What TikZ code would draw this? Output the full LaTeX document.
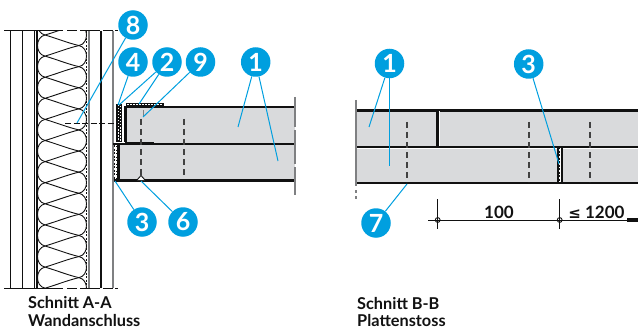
\documentclass[tikz,border=0pt]{standalone}
\usepackage{fontspec}
\setmainfont{Lato}
\usetikzlibrary{calc}
\definecolor{bluec}{HTML}{009FDF}
\definecolor{panel}{HTML}{D9DADC}
\definecolor{wallg}{HTML}{7F8082}
\definecolor{ink}{HTML}{111111}
\tikzset{
  x=1pt,y=-1pt,
  badge/.style={circle,fill=bluec,minimum size=29.5pt,inner sep=0pt,text=white,font=\fontsize{25}{25}\selectfont\bfseries},
  leader/.style={bluec,line width=1pt},
  heavy/.style={ink,line width=2.6pt},
  wallline/.style={ink,line width=1.1pt},
  graywall/.style={wallg,line width=2pt},
  dashcl/.style={ink!80,line width=1.1pt,dash pattern=on 6pt off 4pt},
  axisl/.style={ink,line width=1pt,dash pattern=on 59pt off 4pt on 10pt off 3pt on 20pt off 3pt on 10pt off 2pt on 3pt off 100pt},
  axisg/.style={wallg,line width=1.5pt},
  captext/.style={font=\fontsize{16.3}{18}\selectfont\bfseries,text=ink,anchor=west,inner sep=0pt},
  dimtext/.style={font=\fontsize{17}{18}\selectfont\bfseries,text=ink,inner sep=0pt},
  hatchdots/.style={white,line width=0.9pt,dash pattern=on 1.5pt off 1.5pt}
}
\begin{document}
\begin{tikzpicture}
\useasboundingbox (0,0) rectangle (638,329);
% ---- wall
\foreach \xx in {10.5,22.5,34.7,37,101}{\draw[wallline] (\xx,31) -- (\xx,288);}
\foreach \xx in {88.5,113}{\draw[graywall] (\xx,31) -- (\xx,288);}
\draw[ink,line width=0.7pt,dash pattern=on 2pt off 1.5pt] (86.3,31) -- (86.3,288);
\begin{scope}
\clip (37,31) rectangle (87,288);
\def\pp{21.1}
\foreach \k in {-2,...,12}{
  \pgfmathsetmacro{\a}{35+\k*\pp}
  \pgfmathsetmacro{\b}{\a+\pp}
  \pgfmathsetmacro{\c}{\a+0.5*\pp}
  \pgfmathsetmacro{\d}{\a+1.5*\pp}
  \draw[ink,line width=0.9pt]
    (45,\a) .. controls (35,\a+2) and (35,\b-2) .. (45,\b)
    .. controls (57,\b-3.5) and (68,\c+2.5) .. (79,\c)
    .. controls (89,\c+2) and (89,\d-2) .. (79,\d)
    .. controls (68,\d-2.5) and (57,\b+3.5) .. (45,\b);
}
\end{scope}
\draw[axisl] (4,31) -- (118,31);
\draw[axisl] (4,288) -- (118,288);
% ---- section A-A
\fill[panel] (127,107) rectangle (295,143);
\fill[panel] (118,144) rectangle (295,180);
\draw[heavy] (126,107) -- (295,107);
\draw[heavy] (113,144) -- (295,144);
\draw[heavy] (114,180.5) -- (295,180.5);
\draw[heavy] (125.5,106) -- (125.5,142);
\draw[ink,line width=1.2pt] (125,142.5) -- (154,142.5);
\draw[heavy] (118.5,144) -- (118.5,181);
\fill[ink] (116,104) rectangle (122,142);
\draw[hatchdots] (118,105) -- (118,141);
\draw[hatchdots] (120,106) -- (120,141);
\fill[ink] (126,103) rectangle (164,106.5);
\draw[hatchdots] (127,104.7) -- (163,104.7);
\draw[ink,line width=0.8pt,dash pattern=on 2pt off 1.5pt] (114.5,145) -- (114.5,180);
\draw[ink,line width=0.8pt,dash pattern=on 1pt off 2.5pt] (116,146) -- (116,180);
\draw[dashcl] (141,119) -- (141,178);
\draw[dashcl] (184,119) -- (184,178);
\draw[wallg,line width=1pt] (143.5,110) -- (143.5,117);
\draw[ink,line width=0.9pt,fill=white] (137,180) -- (141,175.5) -- (145,180);
\draw[axisg] (295,97) -- (295,127) (295,130) -- (295,164) (295,167) -- (295,195);
\draw[ink,line width=0.9pt,dash pattern=on 6pt off 2.5pt] (65,123) -- (114,123);
% ---- section B-B
\fill[panel] (356,110) rectangle (638,183);
\draw[white,line width=1pt] (356,148.2) -- (638,148.2);
\fill[white] (557,146) rectangle (563,184);
\draw[ink,line width=2pt] (557.5,146) -- (557.5,184);
\draw[ink,line width=2pt] (562.3,146) -- (562.3,184);
\draw[ink,line width=0.9pt,dash pattern=on 2pt off 1.5pt] (559.9,147) -- (559.9,183);
\draw[heavy] (356,110.3) -- (638,110.3);
\draw[ink,line width=2pt] (356,146.7) -- (638,146.7);
\draw[ink,line width=2pt] (356,183.3) -- (638,183.3);
\draw[heavy] (437.7,110) -- (437.7,146);
\draw[white,line width=1pt] (439.7,111.5) -- (439.7,146);
\draw[dashcl] (407,122) -- (407,182);
\draw[dashcl] (529,122) -- (529,182);
\draw[dashcl] (590,122) -- (590,182);
\draw[axisg] (356,100) -- (356,186);
\draw[axisg] (356,190) -- (356,193) (356,196) -- (356,199);
% ---- dimension
\coordinate (d0) at (428,220);
\coordinate (d1) at (437.7,220);
\coordinate (d2) at (559.7,220);
\coordinate (d3) at (638,220);
\draw[ink,line width=0.9pt] (d0) -- (d3);
\draw[ink,line width=0.9pt] (437.7,199) -- (437.7,229);
\draw[ink,line width=0.9pt] (559.7,199) -- (559.7,229);
\draw[ink,line width=0.9pt] (d1) circle (2.4);
\draw[ink,line width=0.9pt] (d2) circle (2.4);
\fill[ink] (627,218) rectangle (638,222);
\node[dimtext] (t100) at (499,212.5) {100};
\node[dimtext] (t1200) at (596.5,212.5) {{\fontspec{DejaVu Sans}\bfseries\fontsize{15}{15}\selectfont≤} 1200};
% ---- anchors of leaders
\coordinate (p8) at (77,123);
\coordinate (p4) at (118,105);
\coordinate (p2a) at (119,105);
\coordinate (p2b) at (139,104);
\coordinate (p9) at (143,117);
\coordinate (p1a) at (238,127);
\coordinate (p1b) at (278,161);
\coordinate (p3a) at (115,181);
\coordinate (p6) at (141,181);
\coordinate (q1a) at (369,127);
\coordinate (q1b) at (389.5,166);
\coordinate (q7) at (407,184);
\coordinate (q3) at (559,164);
% ---- badges
\node[badge] (n8) at (133,25) {8};
\node[badge] (n4) at (133,62) {4};
\node[badge] (n2) at (167,62) {2};
\node[badge] (n9) at (200.5,62) {9};
\node[badge] (n1) at (255.7,62) {1};
\node[badge] (n3) at (142,222) {3};
\node[badge] (n6) at (183,222) {6};
\node[badge] (m1) at (389.5,63.5) {1};
\node[badge] (m7) at (376,223) {7};
\node[badge] (m3) at (528.7,64) {3};
\draw[leader] (n8) -- (p8);
\draw[leader] (n4) -- (p4);
\draw[leader] (n2) -- (p2a);
\draw[leader] (n2) -- (p2b);
\draw[leader] (n9) -- (p9);
\draw[leader] (n1) -- (p1a);
\draw[leader] (n1) -- (p1b);
\draw[leader] (n3) -- (p3a);
\draw[leader] (n6) -- (p6);
\draw[leader] (m1) -- (q1a);
\draw[leader] (m1) -- (q1b);
\draw[leader] (m7) -- (q7);
\draw[leader] (m3) -- (q3);
% ---- captions
\node[captext] (c1) at (28,302.5) {Schnitt A-A};
\node[captext] (c2) at (28,320.5) {Wandanschluss};
\node[captext] (c3) at (357,304) {Schnitt B-B};
\node[captext] (c4) at (357,321) {Plattenstoss};
\end{tikzpicture}
\end{document}
